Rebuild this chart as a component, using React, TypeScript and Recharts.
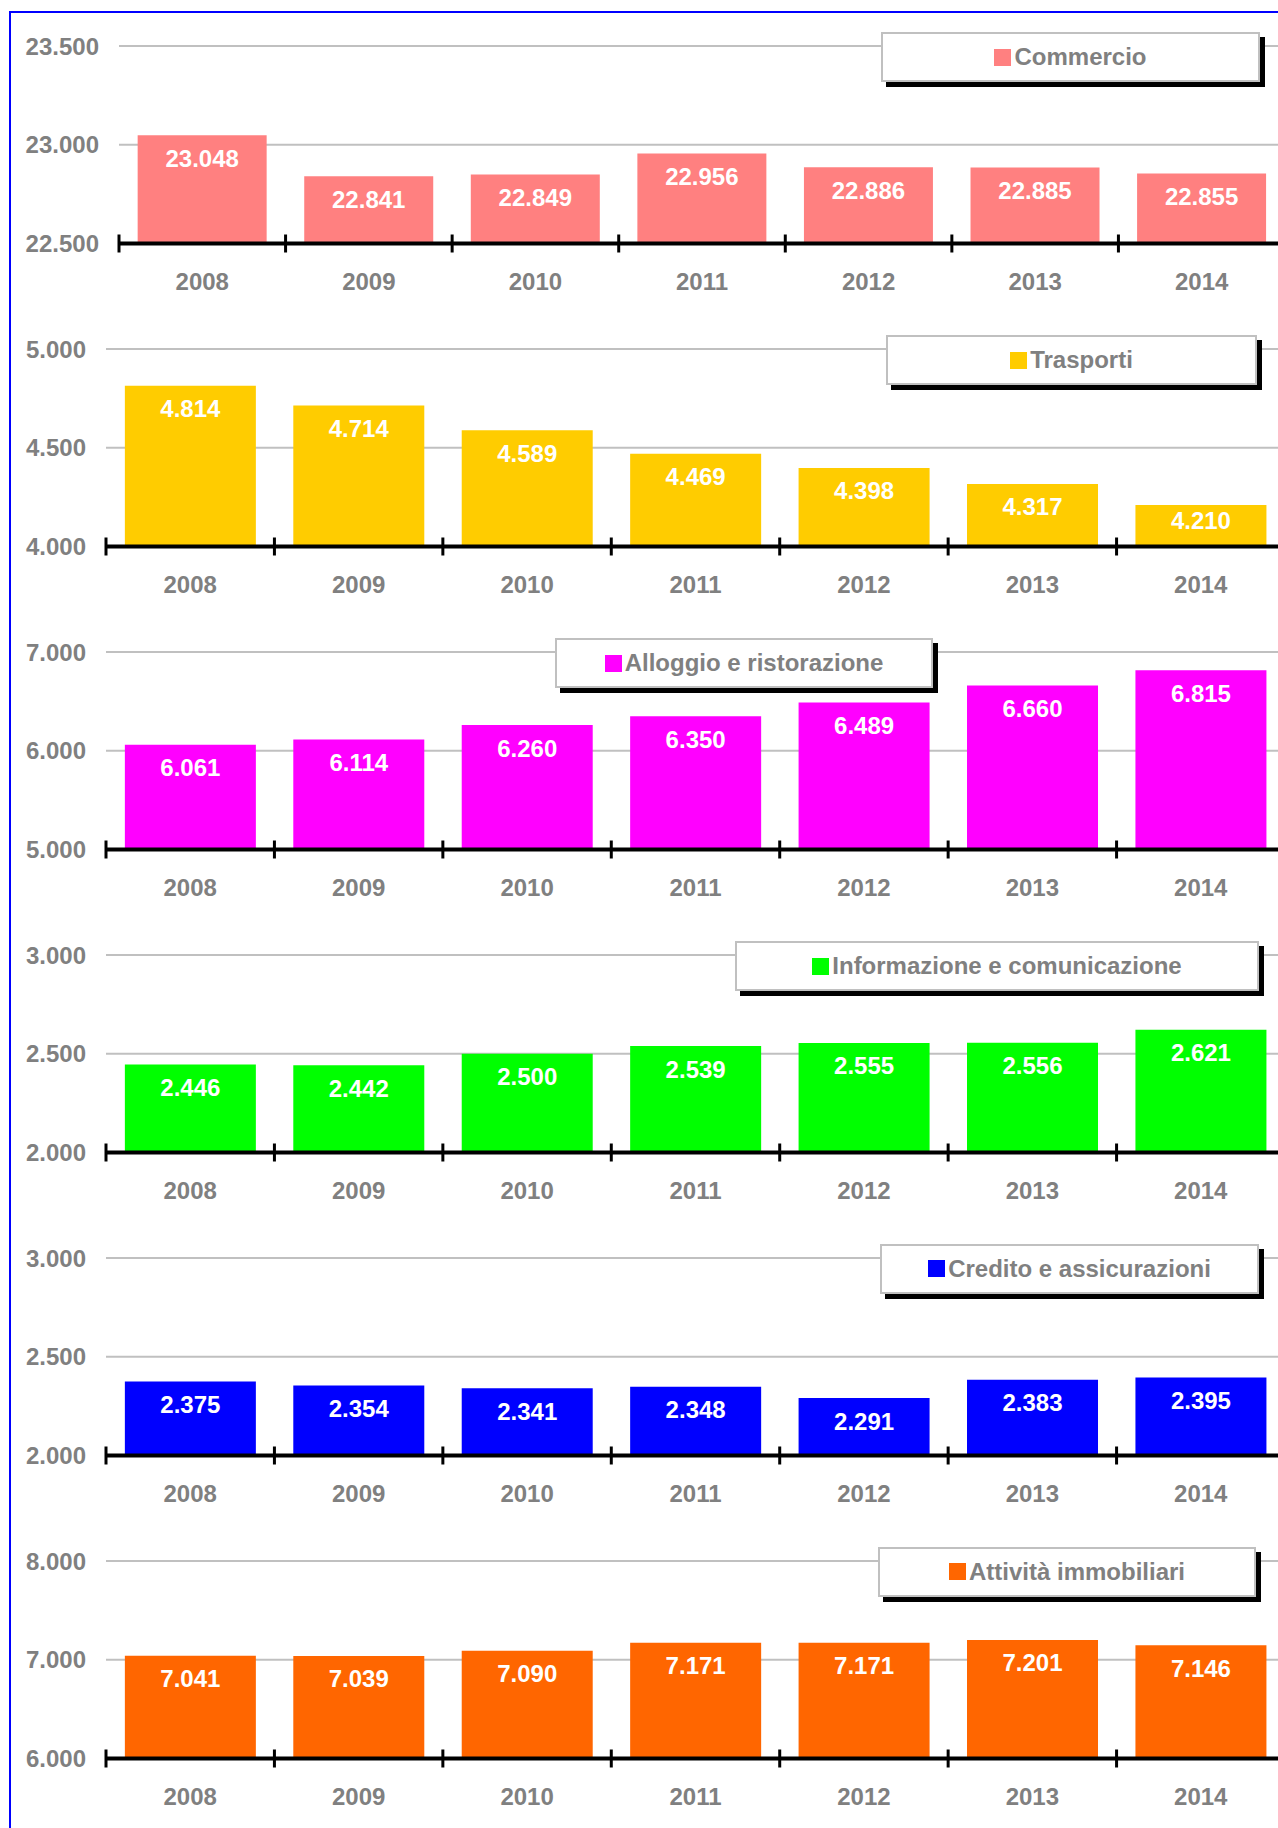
import React from "react";
import {
  BarChart,
  Bar,
  XAxis,
  YAxis,
  CartesianGrid,
  LabelList,
  Legend,
} from "recharts";

// anni e valori per settore
const YEARS = ["2008", "2009", "2010", "2011", "2012", "2013", "2014"];

const COMMERCIO = [23048, 22841, 22849, 22956, 22886, 22885, 22855];
const TRASPORTI = [4814, 4714, 4589, 4469, 4398, 4317, 4210];
const ALLOGGIO = [6061, 6114, 6260, 6350, 6489, 6660, 6815];
const INFORMAZIONE = [2446, 2442, 2500, 2539, 2555, 2556, 2621];
const CREDITO = [2375, 2354, 2341, 2348, 2291, 2383, 2395];
const IMMOBILIARI = [7041, 7039, 7090, 7171, 7171, 7201, 7146];

const TICKS_COMMERCIO = [22500, 23000, 23500];
const TICKS_TRASPORTI = [4000, 4500, 5000];
const TICKS_ALLOGGIO = [5000, 6000, 7000];
const TICKS_INFORMAZIONE = [2000, 2500, 3000];
const TICKS_CREDITO = [2000, 2500, 3000];
const TICKS_IMMOBILIARI = [6000, 7000, 8000];

const FONT = "'Liberation Sans', Arial, sans-serif";
const GREY = "#808080";

const CHART_W = 1290;
const CHART_H = 303;
const PLOT_TOP = 20;
const PLOT_H = 197.5;
const FIRST_TOP = 46.3;
const STEP = 302.9;

const panels = [
  { name: "Commercio", color: "#FF8080", values: COMMERCIO, ticks: TICKS_COMMERCIO, axisW: 119, legendLeft: 881, legendW: 379 },
  { name: "Trasporti", color: "#FFCC00", values: TRASPORTI, ticks: TICKS_TRASPORTI, axisW: 106, legendLeft: 886, legendW: 371 },
  { name: "Alloggio e ristorazione", color: "#FF00FF", values: ALLOGGIO, ticks: TICKS_ALLOGGIO, axisW: 106, legendLeft: 555, legendW: 378 },
  { name: "Informazione e comunicazione", color: "#00FF00", values: INFORMAZIONE, ticks: TICKS_INFORMAZIONE, axisW: 106, legendLeft: 735, legendW: 524 },
  { name: "Credito e assicurazioni", color: "#0000FF", values: CREDITO, ticks: TICKS_CREDITO, axisW: 106, legendLeft: 880, legendW: 379 },
  { name: "Attività immobiliari", color: "#FF6600", values: IMMOBILIARI, ticks: TICKS_IMMOBILIARI, axisW: 106, legendLeft: 878, legendW: 378 },
];

// separatore delle migliaia all'italiana
const fmt = (v: any) => String(v).replace(/\B(?=(\d{3})+(?!\d))/g, ".");

function YearTick(props: any) {
  const { x, y, payload, half } = props;
  const h = payload && payload.offset ? payload.offset : half;
  return (
    <g>
      <line x1={x - h} x2={x - h} y1={y - 9} y2={y + 9} stroke="#000" strokeWidth={3} />
      <text
        x={x}
        y={y + 38}
        textAnchor="middle"
        dominantBaseline="central"
        fill={GREY}
        fontSize={24}
        fontWeight="bold"
        fontFamily={FONT}
      >
        {payload.value}
      </text>
    </g>
  );
}

// etichetta bianca dentro la cima della barra; sulle barre basse resta dentro la barra
function ValueLabel(props: any) {
  const box = props.viewBox && props.viewBox.width !== undefined ? props.viewBox : props;
  const { x, y, width, height } = box;
  const cy = Math.min(y + 23, y + height - 26);
  return (
    <text
      x={x + width / 2}
      y={cy}
      textAnchor="middle"
      dominantBaseline="central"
      fill="#fff"
      fontSize={24}
      fontWeight="bold"
      fontFamily={FONT}
    >
      {fmt(props.value)}
    </text>
  );
}

function LegendBox({ name, color, width }: { name: string; color: string; width: number }) {
  return (
    <div
      style={{
        boxSizing: "border-box",
        width,
        height: 50,
        border: "2px solid #c0c0c0",
        background: "#fff",
        boxShadow: "5px 5px 0 #000",
        display: "flex",
        alignItems: "center",
        justifyContent: "center",
        fontFamily: FONT,
        fontSize: 24,
        fontWeight: "bold",
        color: GREY,
      }}
    >
      <span style={{ display: "inline-block", width: 17, height: 17, background: color, marginRight: 3 }} />
      <span>{name}</span>
    </div>
  );
}

function Panel({ p, index }: { p: (typeof panels)[number]; index: number }) {
  const data = YEARS.map((year, i) => ({ year, value: p.values[i] }));
  const top = FIRST_TOP + index * STEP - PLOT_TOP;
  const half = (CHART_W - 5 - p.axisW) / YEARS.length / 2;
  return (
    <div style={{ position: "absolute", left: 0, top }}>
      <BarChart
        width={CHART_W}
        height={CHART_H}
        data={data}
        margin={{ top: PLOT_TOP, right: 5, left: 0, bottom: 0 }}
        barCategoryGap="11.2%"
      >
        <CartesianGrid vertical={false} stroke="#c0c0c0" strokeWidth={2} />
        <YAxis
          width={p.axisW}
          domain={[p.ticks[0], p.ticks[p.ticks.length - 1]]}
          ticks={p.ticks}
          tickFormatter={fmt}
          axisLine={false}
          tickLine={false}
          tickSize={0}
          tickMargin={20}
          tick={{ fill: GREY, fontSize: 24, fontWeight: "bold", fontFamily: FONT }}
          interval={0}
        />
        <Bar dataKey="value" name={p.name} fill={p.color} isAnimationActive={false}>
          <LabelList dataKey="value" content={(props: any) => <ValueLabel {...props} />} />
        </Bar>
        <XAxis
          dataKey="year"
          height={CHART_H - PLOT_TOP - PLOT_H}
          axisLine={{ stroke: "#000", strokeWidth: 4 }}
          tickLine={false}
          tickSize={0}
          tickMargin={0}
          interval={0}
          tick={<YearTick half={half} />}
        />
        <Legend
          verticalAlign="middle"
          align="center"
          wrapperStyle={{ top: PLOT_TOP - 14, left: p.legendLeft, width: p.legendW, height: 50 }}
          content={() => <LegendBox name={p.name} color={p.color} width={p.legendW} />}
        />
      </BarChart>
    </div>
  );
}

export default function App() {
  return (
    <div
      style={{
        position: "absolute",
        left: 0,
        top: 0,
        width: 1278,
        height: 1828,
        overflow: "hidden",
        background: "#fff",
      }}
    >
      <div
        style={{
          position: "absolute",
          left: 9,
          top: 11,
          right: -10,
          bottom: -10,
          borderLeft: "2px solid #0000ff",
          borderTop: "2px solid #0000ff",
        }}
      />
      {panels.map((p, i) => (
        <Panel key={p.name} p={p} index={i} />
      ))}
    </div>
  );
}
